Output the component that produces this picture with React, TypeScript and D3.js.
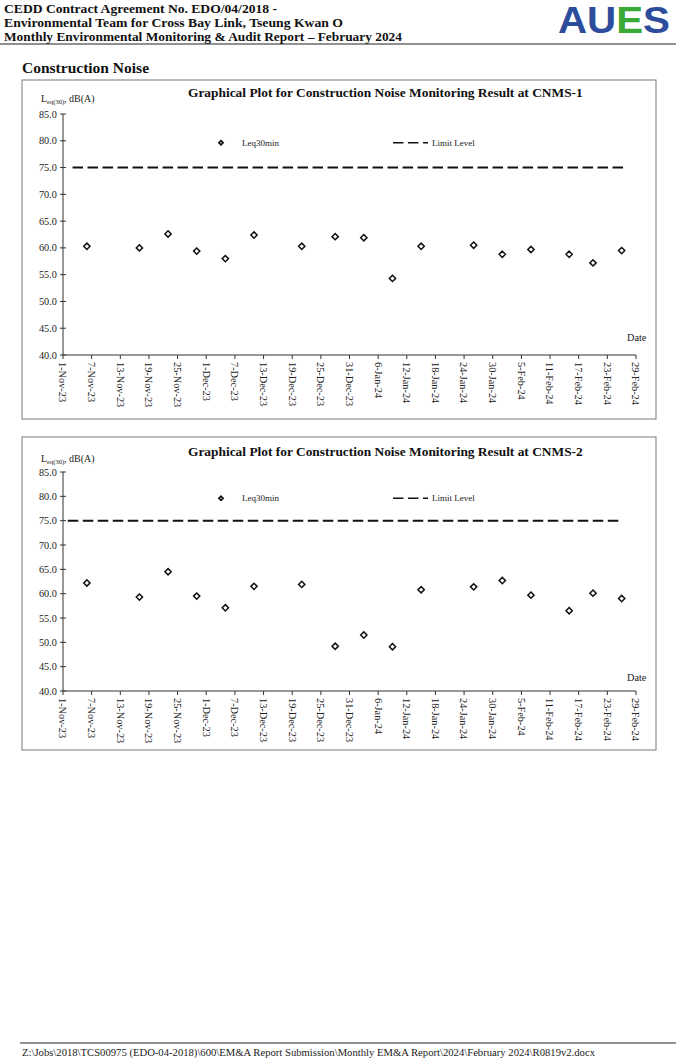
import * as d3 from 'd3'

// monitoring dates shared by both stations
const DATES = [
  '2023-11-06', '2023-11-17', '2023-11-23', '2023-11-29', '2023-12-05',
  '2023-12-11', '2023-12-21', '2023-12-28', '2024-01-03', '2024-01-09',
  '2024-01-15', '2024-01-26', '2024-02-01', '2024-02-07', '2024-02-15',
  '2024-02-20', '2024-02-26',
]
const LEQ_CNMS1 = [60.3, 60.0, 62.6, 59.4, 58.0, 62.4, 60.3, 62.1, 61.9, 54.3, 60.3, 60.5, 58.8, 59.7, 58.8, 57.2, 59.5]
const LEQ_CNMS2 = [62.2, 59.3, 64.5, 59.5, 57.1, 61.5, 61.9, 49.2, 51.5, 49.1, 60.8, 61.4, 62.7, 59.7, 56.5, 60.1, 59.0]

const LIMIT_LEVEL = 75
const LIMIT_SPAN_CNMS1 = ['2023-11-03', '2024-02-27']
const LIMIT_SPAN_CNMS2 = ['2023-11-02', '2024-02-26']

const X_DOMAIN = ['2023-11-01', '2024-02-29']
const X_TICK_STEP_DAYS = 6
const Y_TICKS = [40, 45, 50, 55, 60, 65, 70, 75, 80, 85]

const HEADER_LINES = [
  'CEDD Contract Agreement No. EDO/04/2018 -',
  'Environmental Team for Cross Bay Link, Tseung Kwan O',
  'Monthly Environmental Monitoring & Audit Report \u2013 February 2024',
]
const HEADER_WIDTHS = [273, 339, 398]
const FOOTER =
  'Z:\\Jobs\\2018\\TCS00975 (EDO-04-2018)\\600\\EM&A Report Submission\\Monthly EM&A Report\\2024\\February 2024\\R0819v2.docx'

const SERIF = '"Liberation Serif", "Times New Roman", serif'
const SANS = '"Liberation Sans", Arial, sans-serif'

const parse = d3.timeParse('%Y-%m-%d')
const fmt = d3.timeFormat('%-d-%b-%y')

const x = d3
  .scaleTime()
  .domain(X_DOMAIN.map((d) => parse(d) as Date))
  .range([63, 636])

const xTicks = d3
  .range(0, d3.timeDay.count(x.domain()[0], x.domain()[1]) + 1, X_TICK_STEP_DAYS)
  .map((n) => d3.timeDay.offset(x.domain()[0], n))

const diamond = d3.symbol(d3.symbolDiamond2, 25)()
const legendDiamond = d3.symbol(d3.symbolDiamond2, 11)()

type ChartProps = {
  boxTop: number
  boxBottom: number
  plotTop: number
  plotBottom: number
  titleY: number
  labelY: number
  dateY: number
  station: string
  values: number[]
  limitSpan: string[]
}

function NoiseChart(p: ChartProps) {
  const y = d3.scaleLinear().domain([40, 85]).range([p.plotBottom, p.plotTop])
  const x0 = x.range()[0]
  const legendY = y(80) + 2

  return (
    <g fontFamily={SERIF}>
      <rect
        x={22}
        y={p.boxTop}
        width={634}
        height={p.boxBottom - p.boxTop}
        fill="none"
        stroke="#7a7a7a"
        strokeWidth={1}
      />
      <text x={188} y={p.titleY} fontSize={13.4} fontWeight="bold" fill="#111">
        Graphical Plot for Construction Noise Monitoring Result at {p.station}
      </text>
      <text x={41} y={p.labelY} fontSize={10} fill="#222">
        L<tspan fontSize={6.5} dy={2}>eq(30)</tspan>
        <tspan dy={-2}>, dB(A)</tspan>
      </text>

      {/* y axis */}
      <line x1={x0} x2={x0} y1={p.plotTop} y2={p.plotBottom} stroke="#333" />
      {Y_TICKS.map((t) => (
        <g key={t} transform={`translate(0,${y(t)})`}>
          <line x1={x0 - 3} x2={x0 + 3} stroke="#333" />
          <text x={57} dy="0.35em" textAnchor="end" fontSize={10.3} fill="#222">
            {t.toFixed(1)}
          </text>
        </g>
      ))}

      {/* x axis */}
      <line x1={x0} x2={x.range()[1]} y1={p.plotBottom} y2={p.plotBottom} stroke="#333" />
      {xTicks.map((t) => (
        <g key={+t} transform={`translate(${x(t)},${p.plotBottom})`}>
          <line y1={0} y2={4} stroke="#333" />
          <text transform="translate(0,7) rotate(90)" dy="0.35em" fontSize={10.3} fill="#222">
            {fmt(t)}
          </text>
        </g>
      ))}
      <text x={627} y={p.dateY} fontSize={10.3} fill="#222">
        Date
      </text>

      {/* limit level */}
      <line
        x1={x(parse(p.limitSpan[0]) as Date)}
        x2={x(parse(p.limitSpan[1]) as Date)}
        y1={y(LIMIT_LEVEL)}
        y2={y(LIMIT_LEVEL)}
        stroke="#111"
        strokeWidth={2}
        strokeDasharray="10.5 4.5"
      />

      {/* measured values */}
      {p.values.map((v, i) => (
        <path
          key={i}
          d={diamond}
          transform={`translate(${x(parse(DATES[i]) as Date)},${y(v)})`}
          fill="#fff"
          stroke="#111"
          strokeWidth={1.5}
        />
      ))}

      {/* legend */}
      <path d={legendDiamond} transform={`translate(221,${legendY})`} fill="#fff" stroke="#111" strokeWidth={1.7} />
      <text x={242} y={legendY} dy="0.35em" fontSize={9} fill="#222">
        Leq30min
      </text>
      <line
        x1={393}
        x2={428}
        y1={legendY}
        y2={legendY}
        stroke="#111"
        strokeWidth={1.5}
        strokeDasharray="10.5 4.5"
      />
      <text x={432} y={legendY} dy="0.35em" fontSize={9} fill="#222">
        Limit Level
      </text>
    </g>
  )
}

export default function App() {
  return (
    <svg
      width={676}
      height={1060}
      viewBox="0 0 676 1060"
      style={{ position: 'absolute', left: 0, top: 0, background: '#fff' }}
    >
      {/* report header */}
      <g fontFamily={SERIF} fontWeight="bold" fontSize={13.5} fill="#111">
        {HEADER_LINES.map((t, i) => (
          <text key={i} x={4} y={12.5 + i * 14} textLength={HEADER_WIDTHS[i]} lengthAdjust="spacingAndGlyphs">
            {t}
          </text>
        ))}
      </g>
      <text
        x={558}
        y={33}
        fontFamily={SANS}
        fontWeight="bold"
        fontSize={36}
        textLength={112}
        lengthAdjust="spacingAndGlyphs"
      >
        <tspan fill="#2c4c9c">AU</tspan>
        <tspan fill="#3aa935">E</tspan>
        <tspan fill="#2c4c9c">S</tspan>
      </text>
      <line x1={0} x2={676} y1={44} y2={44} stroke="#222" strokeWidth={1} />

      <text x={22} y={73} fontFamily={SERIF} fontWeight="bold" fontSize={15.5} fill="#111">
        Construction Noise
      </text>

      <NoiseChart
        boxTop={80}
        boxBottom={419}
        plotTop={114}
        plotBottom={355}
        titleY={97}
        labelY={102}
        dateY={341}
        station="CNMS-1"
        values={LEQ_CNMS1}
        limitSpan={LIMIT_SPAN_CNMS1}
      />
      <NoiseChart
        boxTop={437}
        boxBottom={750}
        plotTop={472}
        plotBottom={691}
        titleY={456}
        labelY={462}
        dateY={681}
        station="CNMS-2"
        values={LEQ_CNMS2}
        limitSpan={LIMIT_SPAN_CNMS2}
      />

      {/* footer */}
      <line x1={20} x2={676} y1={1043} y2={1043} stroke="#222" strokeWidth={1} />
      <text x={22} y={1056} fontFamily={SERIF} fontSize={10} fill="#222" textLength={573} lengthAdjust="spacingAndGlyphs">
        {FOOTER}
      </text>
    </svg>
  )
}
